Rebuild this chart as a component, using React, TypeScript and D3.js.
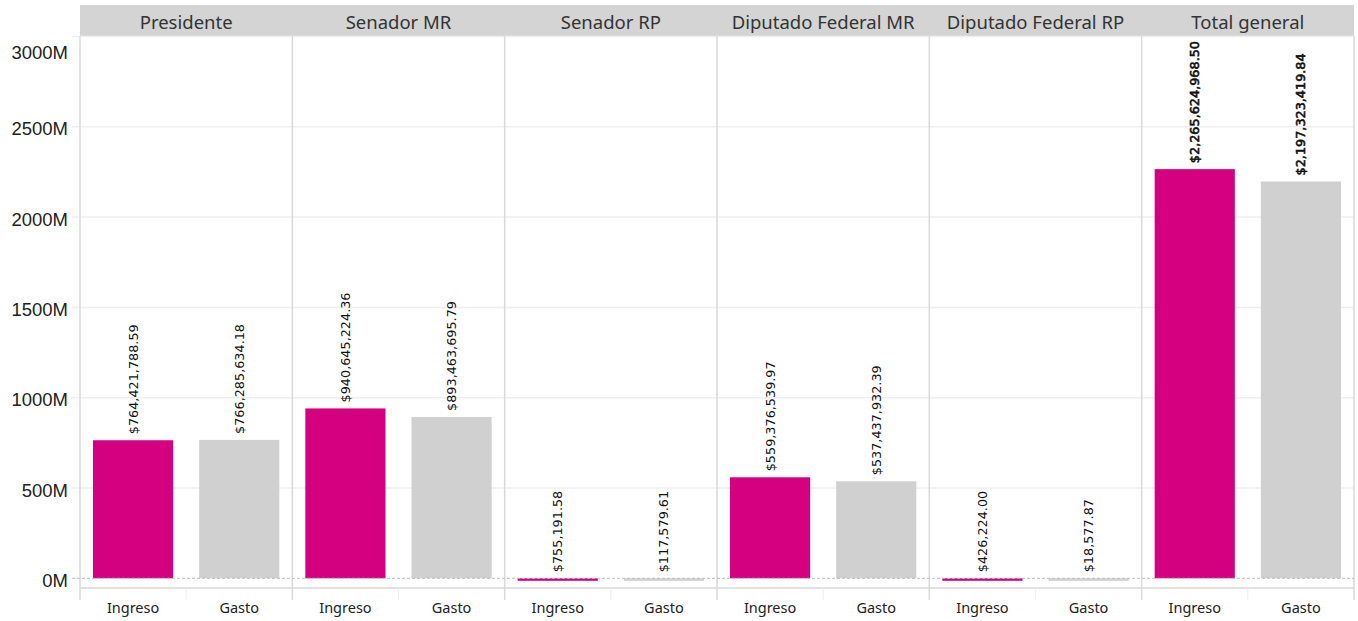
import React from "react";
import * as d3 from "d3";

// data
const panels = [
  "Presidente",
  "Senador MR",
  "Senador RP",
  "Diputado Federal MR",
  "Diputado Federal RP",
  "Total general",
];
const measures = ["Ingreso", "Gasto"];
const ingreso = [764421788.59, 940645224.36, 755191.58, 559376539.97, 426224.0, 2265624968.5];
const gasto = [766285634.18, 893463695.79, 117579.61, 537437932.39, 18577.87, 2197323419.84];
const yTicks = [0, 500e6, 1000e6, 1500e6, 2000e6, 2500e6, 3000e6];

const colors: { [k: string]: string } = { Ingreso: "#D5007F", Gasto: "#D0D0D0" };

const W = 1358;
const H = 621;
const left = 80;
const right = 1354;
const headerTop = 5;
const headerBottom = 36;
const zeroY = 578.3;
const axisBottom = 588;

export default function App() {
  const y = d3.scaleLinear().domain([0, 3000e6]).range([zeroY, zeroY - 3000 * 0.1806]);
  const x = d3.scaleBand<string>().domain(panels).range([left, right]).padding(0);
  const inner = d3
    .scaleBand<string>()
    .domain(measures)
    .range([0, x.bandwidth()])
    .paddingInner(0.245)
    .paddingOuter(0.1225);
  const step = x.bandwidth() / 2;
  const fmt = d3.format("$,.2f");

  const rows = panels.flatMap((p, i) => [
    { panel: p, measure: "Ingreso", value: ingreso[i], total: p === "Total general" },
    { panel: p, measure: "Gasto", value: gasto[i], total: p === "Total general" },
  ]);

  return (
    <svg width={W} height={H} style={{ position: "absolute", left: 0, top: 0 }}>
      <rect width={W} height={H} fill="white" />
      {/* header band */}
      <rect x={left} y={headerTop} width={right - left} height={headerBottom - headerTop} fill="#D4D4D4" />
      {panels.map((p) => (
        <text
          key={p}
          x={(x(p) as number) + x.bandwidth() / 2}
          y={21}
          textAnchor="middle"
          dominantBaseline="central"
          fontFamily="'Noto Sans', sans-serif"
          fontSize={18.5}
          fill="#333"
        >
          {p}
        </text>
      ))}

      {/* gridlines and y axis */}
      {yTicks.map((t) => (
        <g key={t}>
          {t > 0 && (
            <line x1={72} x2={right} y1={y(t)} y2={y(t)} stroke="#EFEFEF" strokeWidth={1.5} />
          )}
          <text
            x={68}
            y={Math.max(y(t), 50) + 2}
            textAnchor="end"
            dominantBaseline="central"
            fontFamily="'Liberation Sans', Arial, sans-serif"
            fontSize={18.5}
            fill="#222"
          >
            {`${t / 1e6}M`}
          </text>
        </g>
      ))}

      {/* panel borders */}
      {panels.map((p) => (
        <line
          key={p}
          x1={x(p) as number}
          x2={x(p) as number}
          y1={headerBottom}
          y2={600}
          stroke="#D9D9D9"
          strokeWidth={1.5}
        />
      ))}
      <line x1={right} x2={right} y1={headerBottom} y2={600} stroke="#D9D9D9" strokeWidth={1.5} />
      <line x1={left} x2={right} y1={axisBottom} y2={axisBottom} stroke="#D9D9D9" strokeWidth={1.5} />
      {panels.map((p) => (
        <line
          key={p}
          x1={(x(p) as number) + step}
          x2={(x(p) as number) + step}
          y1={axisBottom}
          y2={600}
          stroke="#EEEEEE"
          strokeWidth={1}
        />
      ))}

      {/* bars */}
      {rows.map((d) => {
        const bx = (x(d.panel) as number) + (inner(d.measure) as number);
        const h = zeroY - y(d.value);
        const tiny = h < 2;
        const top = tiny ? zeroY : y(d.value);
        const bh = tiny ? 2.5 : h;
        return (
          <rect
            key={d.panel + d.measure}
            x={bx}
            y={top}
            width={inner.bandwidth()}
            height={bh}
            fill={colors[d.measure]}
          />
        );
      })}

      {/* zero line */}
      <line
        x1={72}
        x2={right}
        y1={zeroY}
        y2={zeroY}
        stroke="#BDBDBD"
        strokeWidth={1}
        strokeDasharray="3,2"
      />

      {/* value labels */}
      {rows.map((d) => {
        const cx = (x(d.panel) as number) + (inner(d.measure) as number) + inner.bandwidth() / 2;
        const ty = Math.min(y(d.value), zeroY) - 6;
        return (
          <text
            key={"l" + d.panel + d.measure}
            transform={`translate(${cx},${ty}) rotate(-90)`}
            textAnchor="start"
            dominantBaseline="central"
            fontFamily="'DejaVu Sans', sans-serif"
            fontSize={12.8}
            fill="#111"
            stroke={d.total ? "#111" : "none"}
            strokeWidth={d.total ? 0.6 : 0}
          >
            {fmt(d.value)}
          </text>
        );
      })}

      {/* category labels */}
      {rows.map((d) => (
        <text
          key={"c" + d.panel + d.measure}
          x={(x(d.panel) as number) + (inner(d.measure) as number) + inner.bandwidth() / 2}
          y={607}
          textAnchor="middle"
          dominantBaseline="central"
          fontFamily="'Noto Sans', sans-serif"
          fontSize={14.5}
          fill="#222"
        >
          {d.measure}
        </text>
      ))}
    </svg>
  );
}
